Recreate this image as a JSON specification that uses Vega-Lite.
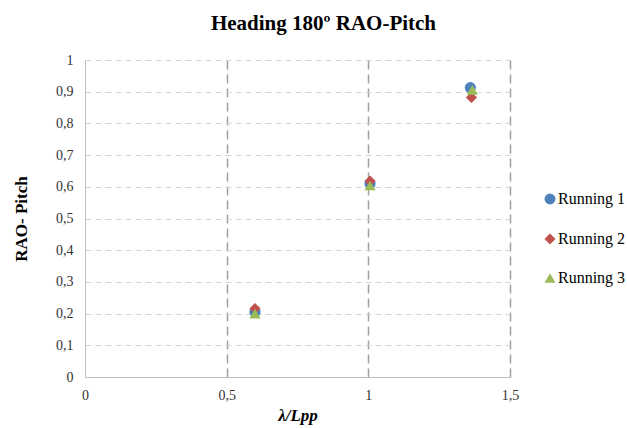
{
  "$schema": "https://vega.github.io/schema/vega-lite/v6.json",
  "width": 425,
  "height": 317,
  "autosize": {"type": "none"},
  "padding": {"left": 85, "top": 60, "right": 117, "bottom": 51},
  "background": "white",
  "title": {
    "text": "Heading 180º RAO-Pitch",
    "font": "Liberation Serif, Times New Roman, serif",
    "fontSize": 21,
    "fontWeight": "bold",
    "color": "#000000",
    "anchor": "middle",
    "dx": 26,
    "offset": 19
  },
  "data": {
    "values": [
      {"series": "Running 1", "lpp": 0.6, "rao": 0.205},
      {"series": "Running 1", "lpp": 1.006, "rao": 0.61},
      {"series": "Running 1", "lpp": 1.36, "rao": 0.913},
      {"series": "Running 2", "lpp": 0.6, "rao": 0.216},
      {"series": "Running 2", "lpp": 1.006, "rao": 0.618},
      {"series": "Running 2", "lpp": 1.364, "rao": 0.882},
      {"series": "Running 3", "lpp": 0.6, "rao": 0.2},
      {"series": "Running 3", "lpp": 1.006, "rao": 0.604},
      {"series": "Running 3", "lpp": 1.367, "rao": 0.906}
    ]
  },
  "mark": {"type": "point", "filled": true, "size": 125, "opacity": 1},
  "encoding": {
    "x": {
      "field": "lpp",
      "type": "quantitative",
      "scale": {"domain": [0, 1.5], "nice": false},
      "axis": {
        "values": [0, 0.5, 1, 1.5],
        "labelExpr": "replace(format(datum.value, '~g'), '.', ',')",
        "title": "λ/Lpp",
        "titleFont": "Liberation Serif, Times New Roman, serif",
        "titleFontStyle": "italic",
        "titleFontWeight": "bold",
        "titleFontSize": 17,
        "titleColor": "#000000",
        "titlePadding": 5,
        "labelFont": "Liberation Serif, Times New Roman, serif",
        "labelFontSize": 14,
        "labelColor": "#333333",
        "labelPadding": 11,
        "labelFlush": false,
        "ticks": false,
        "domainColor": "#c0c0c0",
        "domainWidth": 1,
        "grid": true,
        "gridColor": "#a0a0a0",
        "gridDash": [9, 5],
        "gridWidth": 1.5,
        "gridOpacity": {"condition": {"test": "datum.value == 0", "value": 0}, "value": 1}
      }
    },
    "y": {
      "field": "rao",
      "type": "quantitative",
      "scale": {"domain": [0, 1], "nice": false},
      "axis": {
        "values": [0, 0.1, 0.2, 0.3, 0.4, 0.5, 0.6, 0.7, 0.8, 0.9, 1],
        "labelExpr": "replace(format(datum.value, '~g'), '.', ',')",
        "title": "RAO- Pitch",
        "titleFont": "Liberation Serif, Times New Roman, serif",
        "titleFontWeight": "bold",
        "titleFontSize": 17,
        "titleColor": "#000000",
        "titlePadding": 25,
        "labelFont": "Liberation Serif, Times New Roman, serif",
        "labelFontSize": 14,
        "labelColor": "#333333",
        "labelPadding": 12,
        "labelFlush": false,
        "ticks": false,
        "domainColor": "#c0c0c0",
        "domainWidth": 1,
        "grid": true,
        "gridColor": "#d4d4d4",
        "gridDash": [6, 4],
        "gridWidth": 1,
        "gridOpacity": {"condition": {"test": "datum.value == 0", "value": 0}, "value": 1}
      }
    },
    "color": {
      "field": "series",
      "type": "nominal",
      "scale": {"domain": ["Running 1", "Running 2", "Running 3"], "range": ["#4F81BD", "#C0504D", "#9BBB59"]},
      "legend": {
        "title": null,
        "orient": "none",
        "legendX": 457,
        "legendY": 131,
        "padding": 0,
        "labelFont": "Liberation Serif, Times New Roman, serif",
        "labelFontSize": 16,
        "labelColor": "#000000",
        "labelOffset": 0,
        "symbolSize": 120,
        "symbolOpacity": 1,
        "rowPadding": 22
      }
    },
    "shape": {
      "field": "series",
      "type": "nominal",
      "scale": {"domain": ["Running 1", "Running 2", "Running 3"], "range": ["circle", "diamond", "triangle-up"]}
    }
  },
  "config": {"view": {"stroke": null}}
}
